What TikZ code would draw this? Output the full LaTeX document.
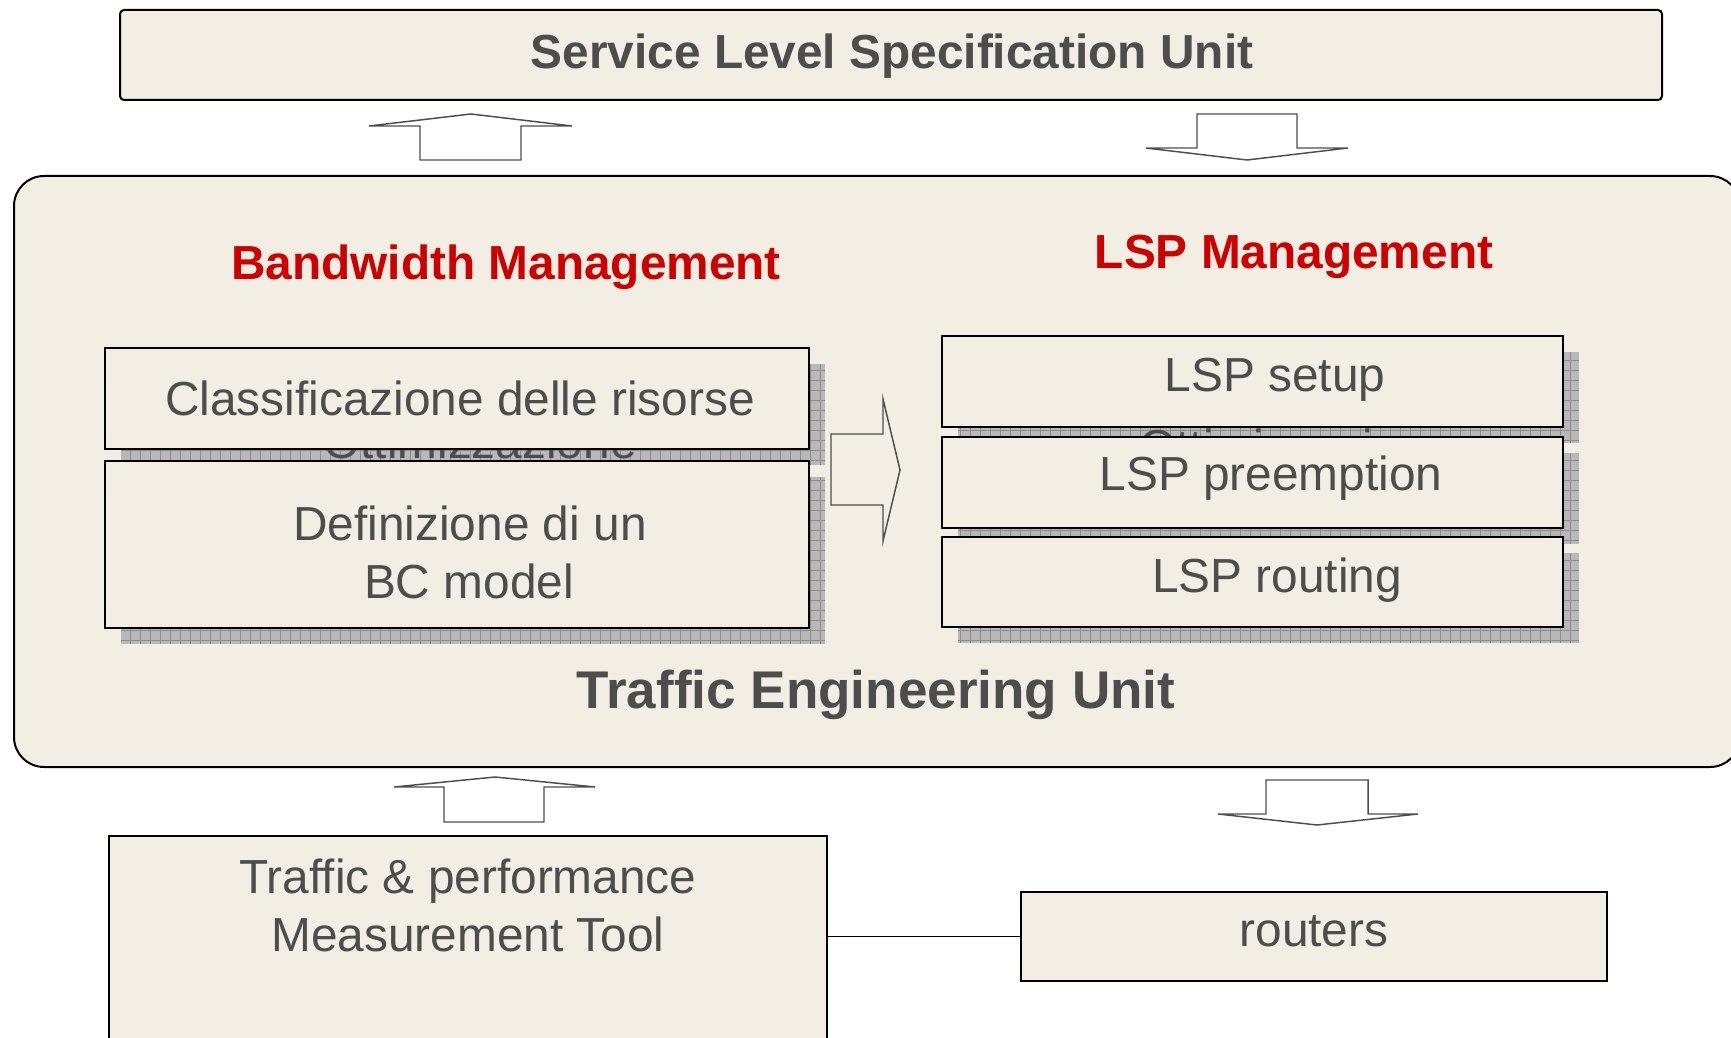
\documentclass[tikz,border=0pt]{standalone}
\usepackage{fontspec}
\setmainfont{Liberation Sans}
\usetikzlibrary{fit}

\definecolor{paper}{HTML}{F2EEE4}
\definecolor{ink}{HTML}{4D4D4D}
\definecolor{accent}{HTML}{CC0000}
\definecolor{shadowgray}{HTML}{B8B8B8}
\definecolor{shadowline}{HTML}{8C8C8C}

% one unit = one pixel of a 1731 x 1038 canvas, y pointing down
\tikzset{
  x=0.75pt, y=-0.75pt,
  box/.style={draw=black, line width=1.5pt, fill=paper, inner sep=0pt, fit={#1}},
  txt/.style={text=ink, inner sep=0pt, anchor=base,
              font=\fontsize{35.85pt}{43pt}\selectfont},
  head/.style={txt, font=\fontsize{35.85pt}{43pt}\selectfont\bfseries},
  redhead/.style={head, text=accent},
  blockarrow/.style={draw=ink, line width=1.1pt, fill=white, line join=miter},
  link/.style={draw=black, line width=1.1pt},
}

% drop shadow with a fine grid texture
\newcommand\gridshadow[4]{%
  \fill[shadowgray] (#1,#2) rectangle (#3,#4);
  \draw[shadowline, line width=0.45pt, step=7.5pt] (#1,#2) grid (#3,#4);
}

\begin{document}
\begin{tikzpicture}
\useasboundingbox (0,0) rectangle (1731,1038);
\clip (0,0) rectangle (1731,1038);
\fill[white] (0,0) rectangle (1731,1038);

% Service Level Specification Unit
\node[box={(120,10) (1662,100)}, rounded corners=3pt] (slsu) {};
\node[head] (slsut) at (892,69) {Service Level Specification Unit};

% arrows between SLS unit and TE unit
\draw[blockarrow] (420,160) -- (420,126) -- (369,126) -- (471,114) -- (572,126)
  -- (521,126) -- (521,160) -- cycle;
\draw[blockarrow] (1197,114) -- (1297,114) -- (1297,148) -- (1348,148)
  -- (1247,160) -- (1146,148) -- (1197,148) -- cycle;

% Traffic Engineering Unit
\node[box={(14,176) (1740,767)}, rounded corners=22.5pt] (teu) {};
\node[redhead] (bwm) at (506,279) {Bandwidth Management};
\node[redhead] (lspm) at (1294,268) {LSP Management};
\node[txt, font=\fontsize{39.8pt}{47pt}\selectfont\bfseries] (teut) at (876,708)
  {Traffic Engineering Unit};

% shadows of the inner blocks
\gridshadow{121}{364}{825}{465}
\gridshadow{121}{477}{825}{644}
\gridshadow{958}{352}{1579}{443}
\gridshadow{958}{453}{1579}{544}
\gridshadow{958}{553}{1579}{643}

% text lying underneath the blocks
\node[txt] (optl) at (480,458) {Ottimizzazione};
\node[txt] (optr) at (1296,463) {Ottimizzazione};

% bandwidth management blocks
\node[box={(105,348) (809,449)}] (cls) {};
\node[txt] (clst) at (460,415) {Classificazione delle risorse};
\node[box={(105,461) (809,628)}] (bcm) {};
\node[txt] (bcm1) at (470,540) {Definizione di un};
\node[txt] (bcm2) at (469,598) {BC model};

% arrow towards LSP management
\draw[blockarrow, fill=paper] (831,434) -- (883,434) -- (883,399) -- (900,470)
  -- (883,541) -- (883,505) -- (831,505) -- cycle;

% LSP management blocks
\node[box={(942,336) (1563,427)}] (setup) {};
\node[txt] (setupt) at (1275,391) {LSP setup};
\node[box={(942,437) (1563,528)}] (pre) {};
\node[txt] (pret) at (1271,490) {LSP preemption};
\node[box={(942,537) (1563,627)}] (rout) {};
\node[txt] (routt) at (1277,592) {LSP routing};

% arrows between TE unit and the network side
\draw[blockarrow] (444,822) -- (444,787) -- (394,787) -- (495,777) -- (595,787)
  -- (544,787) -- (544,822) -- cycle;
\draw[blockarrow] (1266,780) -- (1368,780) -- (1368,814) -- (1418,814)
  -- (1317,825) -- (1218,814) -- (1266,814) -- cycle;

% measurement tool and routers
\node[box={(109,836) (827,1060)}] (tool) {};
\node[txt] (tool1) at (468,893) {Traffic \& performance};
\node[txt] (tool2) at (468,951) {Measurement Tool};
\node[box={(1021,892) (1607,981)}] (rtr) {};
\node[txt] (rtrt) at (1314,946) {routers};

\draw[link] (rtr.west) -- (rtr.west -| tool.east);
\end{tikzpicture}
\end{document}
